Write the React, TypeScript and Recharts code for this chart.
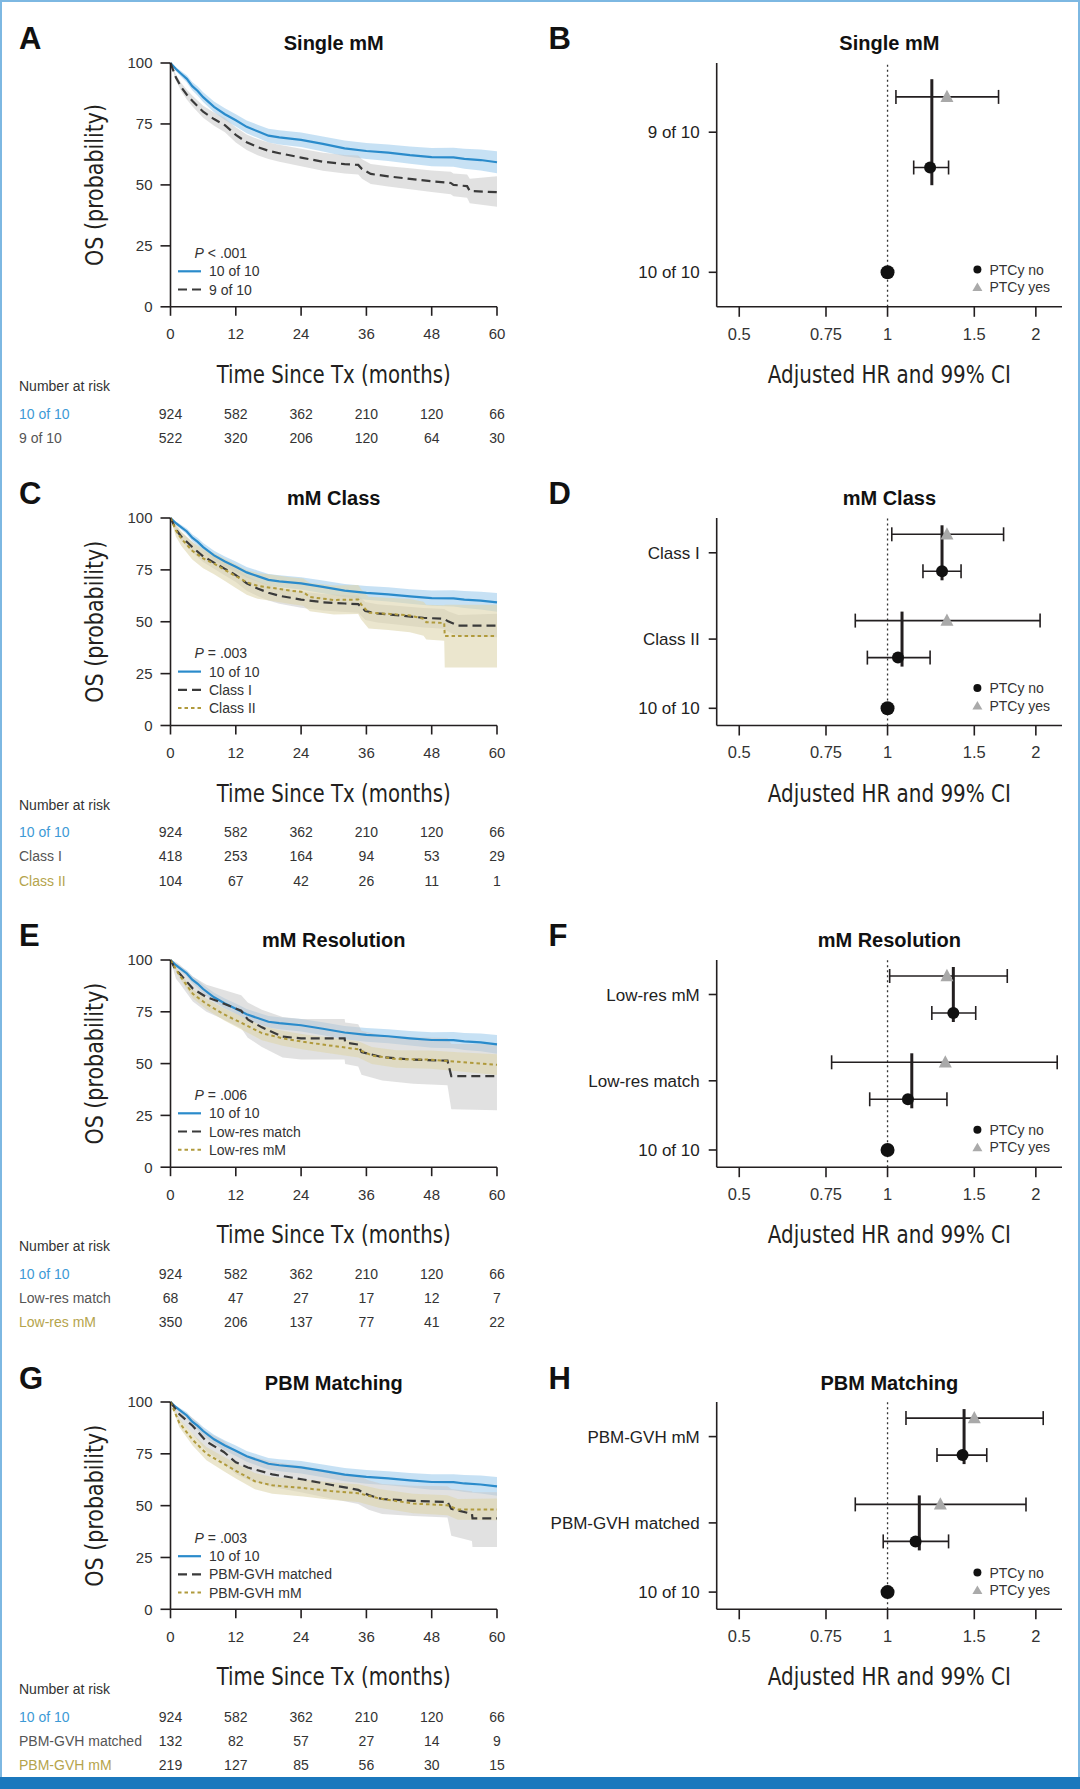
import React from "react";
import { ComposedChart, Line, Area, XAxis, YAxis, Scatter, ErrorBar, ReferenceLine, Label } from "recharts";

const FONT = '"Liberation Sans", Arial, Helvetica, sans-serif';
const NARROW = '"Liberation Sans Narrow", "Arial Narrow", "DejaVu Sans Condensed", sans-serif';
const INK = "#231f20";

const monthTicks = [0, 12, 24, 36, 48, 60];
const osTicks = [0, 25, 50, 75, 100];
const hrTicks = [0.5, 0.75, 1, 1.5, 2];

// KM curves: [month, OS %, lower CI, upper CI]
type Pt = [number, number, number, number];

const tenOfTen: Pt[] = [
  [0, 100, 100, 100], [1, 97.5, 96.6, 98.3], [2, 95.5, 94.3, 96.6], [3, 93.5, 92, 95],
  [4, 90.5, 88.8, 92.2], [5, 88.5, 86.6, 90.4], [6, 86, 84, 88], [8, 82, 79.8, 84.2],
  [10, 79, 76.6, 81.4], [12, 76.5, 74, 79], [14, 73.8, 71.2, 76.4], [16, 72, 69.3, 74.7],
  [18, 70.2, 67.4, 73], [20, 69.5, 66.6, 72.4], [24, 68.5, 65.5, 71.5], [28, 66.8, 63.7, 69.9],
  [32, 65, 61.8, 68.2], [36, 63.9, 60.6, 67.2], [40, 63.2, 59.8, 66.6], [44, 62.2, 58.7, 65.7],
  [48, 61.4, 57.7, 65.1], [52, 61.3, 57.4, 65.2], [54, 60.7, 56.6, 64.8], [57, 60.2, 55.9, 64.5],
  [60, 59.3, 54.8, 63.8],
];

const nineOfTen: Pt[] = [
  [0, 100, 100, 100], [1, 94, 92.8, 95.2], [2, 90, 88.3, 91.7], [3, 87, 85, 89],
  [4, 84.5, 82.3, 86.7], [6, 80, 77.5, 82.5], [8, 77, 74.3, 79.7], [10, 74.5, 71.6, 77.4],
  [12, 70.5, 67.4, 73.6], [14, 67.5, 64.3, 70.7], [16, 65.5, 62.2, 68.8], [18, 64, 60.6, 67.4],
  [20, 63, 59.5, 66.5], [24, 61.2, 57.6, 64.8], [28, 59.5, 55.8, 63.2], [32, 58.5, 54.7, 62.3],
  [34.5, 58.2, 54.3, 62.1], [35.2, 56.5, 52.5, 60.5], [36.8, 54.5, 50.4, 58.6], [40, 53.5, 49.3, 57.7],
  [44, 52.5, 48.2, 56.8], [48, 51.5, 47.1, 55.9], [51.5, 50.8, 46.2, 55.4], [52, 50, 45.3, 54.7],
  [54.5, 49.5, 44.7, 54.3], [55, 47.5, 42.5, 52.5], [60, 47, 41, 53.5],
];

const classI: Pt[] = [
  [0, 100, 100, 100], [1, 94.5, 93, 96], [2, 91, 89, 93], [4, 86, 83.5, 88.5],
  [6, 81.5, 78.8, 84.2], [8, 78.5, 75.5, 81.5], [10, 75.5, 72.3, 78.7], [12, 72.5, 69.2, 75.8],
  [14, 68.5, 65, 72], [16, 66, 62.4, 69.6], [18, 64, 60.3, 67.7], [20, 62.5, 58.7, 66.3],
  [24, 60.7, 56.8, 64.6], [28, 59.4, 55.4, 63.4], [32, 58.8, 54.7, 62.9], [34.5, 58.5, 54.3, 62.7],
  [35.8, 55.2, 50.9, 59.5], [38, 54, 49.6, 58.4], [41.5, 53.2, 48.7, 57.7], [46.5, 51.9, 47.2, 56.6],
  [50.3, 51.4, 46.6, 56.2], [51, 50.2, 45.3, 55.1], [52.9, 48.1, 43, 53.2], [60, 48.1, 42.5, 53.8],
];

const classII: Pt[] = [
  [0, 100, 100, 100], [1, 94, 91, 97], [2, 90, 86.5, 93.5], [4, 84.2, 80, 88.4],
  [6, 80.5, 75.8, 85.2], [8, 78, 72.9, 83.1], [10, 75, 69.6, 80.4], [12, 72, 66.3, 77.7],
  [14, 69, 63, 75], [16, 67.3, 61.1, 73.5], [18.7, 66.3, 60, 72.6], [22, 65, 58.5, 71.5],
  [24.4, 64.3, 57.7, 70.9], [25.6, 61.9, 55.1, 68.7], [30, 60.5, 53.5, 67.5], [34.5, 60.7, 53.7, 67.7],
  [35, 58.5, 51.2, 65.8], [36.4, 54.4, 46.8, 62], [40, 53.8, 46, 61.6], [44, 53, 45, 61],
  [46.5, 51.4, 43.2, 59.6], [47, 49.8, 41.4, 58.2], [50.3, 49.4, 40.8, 58], [50.4, 43.1, 28, 58.2],
  [60, 43.1, 28, 58.2],
];

const lowResMatch: Pt[] = [
  [0, 100, 100, 100], [1, 95, 91, 99], [1.6, 93.7, 89, 98], [4.1, 86.2, 80, 92],
  [6.6, 82.1, 75, 88], [9.2, 79.6, 72, 86], [13, 75.5, 67, 83], [14.2, 71.3, 62.5, 79.5],
  [16.8, 67.5, 58, 76], [20.6, 63, 53, 72.5], [24, 62.2, 52, 71.5], [32, 62.2, 52, 71.5],
  [32.1, 60.2, 49.8, 69.8], [34.5, 59.2, 48.6, 69], [35.1, 55.6, 44.6, 65.8], [38.9, 53.1, 41.8, 63.6],
  [44.6, 51.9, 40.3, 62.7], [50.9, 51.4, 39.6, 62.4], [51.6, 44, 28, 59.5], [60, 44, 27.5, 59.5],
];

const lowResMM: Pt[] = [
  [0, 100, 100, 100], [1.6, 92.9, 91.5, 94.3], [4.1, 83.7, 81.5, 85.9], [6.6, 78.8, 76.2, 81.4],
  [9.8, 73.8, 70.9, 76.7], [13, 69.7, 66.5, 72.9], [16.8, 64.7, 61.3, 68.1], [20.6, 62.2, 58.6, 65.8],
  [24.4, 60.5, 56.8, 64.2], [28.8, 58.9, 55.1, 62.7], [34.5, 56.9, 53, 60.8], [37, 53.9, 49.8, 58],
  [41.5, 52.2, 48, 56.4], [47.8, 51.9, 47.5, 56.3], [52.8, 50.9, 46.3, 55.5], [60, 49.4, 44.5, 54.5],
];

const pbmMatched: Pt[] = [
  [0, 100, 100, 100], [1.6, 94.2, 91.5, 96.9], [4.1, 88.4, 84.5, 92.3], [6.6, 80.9, 76.2, 85.6],
  [9.8, 75.9, 70.6, 81.2], [12, 70.9, 65.3, 76.5], [14.2, 68.4, 62.5, 74.3], [18.7, 65.1, 59, 71.2],
  [24.4, 62.6, 56.2, 69], [29.4, 60.1, 53.5, 66.7], [34.5, 57.6, 50.8, 64.4], [36.4, 55.1, 48, 62.2],
  [38.9, 53.2, 46, 60.4], [44.6, 52.3, 45, 59.6], [50.9, 51.8, 44.3, 59.3], [51.6, 48.5, 35.5, 58],
  [55.4, 46, 33, 57], [55.5, 43.9, 30, 56.5], [60, 43.9, 30, 56.5],
];

const pbmMM: Pt[] = [
  [0, 100, 100, 100], [1.6, 90, 88, 92], [4.1, 81.7, 78.9, 84.5], [6.6, 75.1, 71.9, 78.3],
  [9.8, 70.1, 66.6, 73.6], [12, 66.8, 63.1, 70.5], [15.5, 61.8, 57.9, 65.7], [18.7, 59.8, 55.8, 63.8],
  [24.4, 58.5, 54.4, 62.6], [29.4, 57.1, 52.9, 61.3], [34.5, 56, 51.7, 60.3], [38.3, 53.5, 49, 58],
  [44.6, 51, 46.3, 55.7], [50.9, 50.2, 45.4, 55], [52.8, 48.2, 43.2, 53.2], [60, 48.2, 43, 53.4],
];

// number at risk at 0, 12, 24, 36, 48, 60 months
const riskTenOfTen = [924, 582, 362, 210, 120, 66];
const riskNineOfTen = [522, 320, 206, 120, 64, 30];
const riskClassI = [418, 253, 164, 94, 53, 29];
const riskClassII = [104, 67, 42, 26, 11, 1];
const riskLowResMatch = [68, 47, 27, 17, 12, 7];
const riskLowResMM = [350, 206, 137, 77, 41, 22];
const riskPbmMatched = [132, 82, 57, 27, 14, 9];
const riskPbmMM = [219, 127, 85, 56, 30, 15];

// adjusted HR [estimate, lower 99% CI, upper 99% CI]; rows listed bottom-up after the 10 of 10 reference
const singleLabels = ["10 of 10", "9 of 10"];
const singleNo = [[1.22, 1.13, 1.33]];
const singleYes = [[1.32, 1.04, 1.68]];
const singleAll = [1.23];

const classLabels = ["10 of 10", "Class II", "Class I"];
const classNo = [[1.05, 0.91, 1.22], [1.29, 1.18, 1.41]];
const classYes = [[1.32, 0.86, 2.04], [1.32, 1.02, 1.72]];
const classAll = [1.07, 1.29];

const resLabels = ["10 of 10", "Low-res match", "Low-res mM"];
const resNo = [[1.1, 0.92, 1.32], [1.36, 1.23, 1.51]];
const resYes = [[1.31, 0.77, 2.21], [1.32, 1.01, 1.75]];
const resAll = [1.12, 1.36];

const pbmLabels = ["10 of 10", "PBM-GVH matched", "PBM-GVH mM"];
const pbmNo = [[1.14, 0.98, 1.33], [1.42, 1.26, 1.59]];
const pbmYes = [[1.28, 0.86, 1.91], [1.5, 1.09, 2.07]];
const pbmAll = [1.16, 1.43];

type Kind = "ref" | "dash" | "dot";
const STYLE: Record<Kind, any> = {
  ref: { stroke: "#2a8bcb", dash: undefined, width: 2.2, band: "#b9daf1", op: 0.8, label: "#3d9ad6" },
  dash: { stroke: "#3a3a3a", dash: "9 5", width: 2.2, band: "#c8c8c8", op: 0.55, label: "#555555" },
  dot: { stroke: "#b09a3c", dash: "3.5 3", width: 2, band: "#ddd5ae", op: 0.6, label: "#b5a44c" },
};

const toRows = (pts: Pt[]) => pts.map(([t, s, lo, hi]) => ({ t, s, band: [lo, hi] }));

const KM_LEFT = 170.5;
const KM_W = 326.5;
const kmX = (m: number) => KM_LEFT + (m / 60) * KM_W;

const panels = [
  {
    l: "A", r: "B", title: "Single mM", top: 62.7, plotH: 243.8, p: "< .001",
    curves: [
      { name: "10 of 10", pts: tenOfTen, risk: riskTenOfTen, kind: "ref" as Kind },
      { name: "9 of 10", pts: nineOfTen, risk: riskNineOfTen, kind: "dash" as Kind },
    ],
    forest: { labels: singleLabels, no: singleNo, yes: singleYes, all: singleAll, rowsY: [34.5, 174.6], spread: 35.3, half: 53 },
  },
  {
    l: "C", r: "D", title: "mM Class", top: 517.5, plotH: 207.5, p: "= .003",
    curves: [
      { name: "10 of 10", pts: tenOfTen, risk: riskTenOfTen, kind: "ref" as Kind },
      { name: "Class I", pts: classI, risk: riskClassI, kind: "dash" as Kind },
      { name: "Class II", pts: classII, risk: riskClassII, kind: "dot" as Kind },
    ],
    forest: { labels: classLabels, no: classNo, yes: classYes, all: classAll, rowsY: [17.2, 86.4, 172.7], spread: 18.5, half: 27.5 },
  },
  {
    l: "E", r: "F", title: "mM Resolution", top: 959.5, plotH: 207.2, p: "= .006",
    curves: [
      { name: "10 of 10", pts: tenOfTen, risk: riskTenOfTen, kind: "ref" as Kind },
      { name: "Low-res match", pts: lowResMatch, risk: riskLowResMatch, kind: "dash" as Kind },
      { name: "Low-res mM", pts: lowResMM, risk: riskLowResMM, kind: "dot" as Kind },
    ],
    forest: { labels: resLabels, no: resNo, yes: resYes, all: resAll, rowsY: [17.2, 86.4, 172.7], spread: 18.5, half: 27.5 },
  },
  {
    l: "G", r: "H", title: "PBM Matching", top: 1402.3, plotH: 207.3, p: "= .003",
    curves: [
      { name: "10 of 10", pts: tenOfTen, risk: riskTenOfTen, kind: "ref" as Kind },
      { name: "PBM-GVH matched", pts: pbmMatched, risk: riskPbmMatched, kind: "dash" as Kind },
      { name: "PBM-GVH mM", pts: pbmMM, risk: riskPbmMM, kind: "dot" as Kind },
    ],
    forest: { labels: pbmLabels, no: pbmNo, yes: pbmYes, all: pbmAll, rowsY: [17.2, 86.4, 172.7], spread: 18.5, half: 27.5 },
  },
];

const M_TOP = 20;
const AXIS_H = 95;
const TITLE_SIZE = 25;

// condensed axis titles, squeezed to the printed width
const xTitle = (value: string, length: number) => (props: any) => {
  const { x, y, width } = props.viewBox;
  return (
    <text x={x + width / 2} y={y + 67 + 0.36 * TITLE_SIZE} textAnchor="middle" fontSize={TITLE_SIZE}
      fontFamily={NARROW} fill={INK} textLength={length} lengthAdjust="spacingAndGlyphs">
      {value}
    </text>
  );
};
const yTitle = (value: string, length: number, cx: number) => (props: any) => {
  const { y, height } = props.viewBox;
  return (
    <text transform={`translate(${cx}, ${y + height / 2}) rotate(-90)`} x={0} y={0.36 * TITLE_SIZE} textAnchor="middle"
      fontSize={TITLE_SIZE} fontFamily={NARROW} fill={INK} textLength={length} lengthAdjust="spacingAndGlyphs">
      {value}
    </text>
  );
};

function KmChart({ top, plotH, curves }: any) {
  return (
    <div style={{ position: "absolute", left: 0, top: top - M_TOP }}>
      <ComposedChart width={540} height={M_TOP + plotH + AXIS_H} margin={{ top: M_TOP, right: 540 - KM_LEFT - KM_W, bottom: 0, left: 0 }}>
        <XAxis
          type="number" dataKey="t" domain={[0, 60]} ticks={monthTicks} interval={0} height={AXIS_H}
          stroke={INK} strokeWidth={1.6} tickSize={9} tickMargin={13}
          tick={{ fill: "#333", fontSize: 15, fontFamily: FONT }}
        >
          <Label content={xTitle("Time Since Tx (months)", 234)} />
        </XAxis>
        <YAxis
          type="number" domain={[0, 100]} ticks={osTicks} interval={0} width={KM_LEFT}
          stroke={INK} strokeWidth={1.6} tickSize={10} tickMargin={8}
          tick={{ fill: "#333", fontSize: 15, fontFamily: FONT }}
        >
          <Label content={yTitle("OS (probability)", 162, 94)} />
        </YAxis>
        {curves.map((c: any) => (
          <Area key={"band-" + c.name} data={toRows(c.pts)} dataKey="band" type="linear" stroke="none"
            fill={STYLE[c.kind as Kind].band} fillOpacity={STYLE[c.kind as Kind].op} isAnimationActive={false} />
        ))}
        {curves.map((c: any) => (
          <Line key={"line-" + c.name} data={toRows(c.pts)} dataKey="s" type="linear" dot={false}
            stroke={STYLE[c.kind as Kind].stroke} strokeWidth={STYLE[c.kind as Kind].width}
            strokeDasharray={STYLE[c.kind as Kind].dash} isAnimationActive={false} />
        ))}
      </ComposedChart>
    </div>
  );
}

const Dot = (r: number, fill: string) => (props: any) => <circle cx={props.cx} cy={props.cy} r={r} fill={fill} />;
const Tri = (s: number, fill: string) => (props: any) => (
  <polygon points={`${props.cx},${props.cy - s * 0.55} ${props.cx - s / 2},${props.cy + s * 0.4} ${props.cx + s / 2},${props.cy + s * 0.4}`} fill={fill} />
);

const FOREST_LEFT = 176.7;
const FOREST_RIGHT = 1062 - 540;

function ForestChart({ top, plotH, forest }: any) {
  const { labels, no, yes, all, rowsY, spread, half } = forest;
  const refPt = [{ hr: 1, y: rowsY[0] }];
  const noPts = no.map(([hr, lo, hi]: number[], i: number) => ({ hr, y: rowsY[i + 1] - spread, err: [hr - lo, hi - hr] }));
  const yesPts = yes.map(([hr, lo, hi]: number[], i: number) => ({ hr, y: rowsY[i + 1] + spread, err: [hr - lo, hi - hr] }));
  return (
    <div style={{ position: "absolute", left: 540, top: top - M_TOP }}>
      <ComposedChart width={540} height={M_TOP + plotH + AXIS_H} margin={{ top: M_TOP, right: 540 - FOREST_RIGHT, bottom: 0, left: 0 }}>
        <XAxis
          type="number" dataKey="hr" scale="log" domain={[0.45, 2.26]} allowDataOverflow ticks={hrTicks} interval={0}
          height={AXIS_H} stroke={INK} strokeWidth={1.6} tickSize={10} tickMargin={11}
          tick={{ fill: "#333", fontSize: 16.5, fontFamily: FONT }}
        >
          <Label content={xTitle("Adjusted HR and 99% CI", 243)} />
        </XAxis>
        <YAxis
          type="number" dataKey="y" domain={[0, plotH]} allowDataOverflow ticks={rowsY} interval={0} width={FOREST_LEFT}
          tickFormatter={(v: number) => labels[rowsY.indexOf(v)] ?? ""}
          stroke={INK} strokeWidth={1.6} tickSize={8} tickMargin={9}
          tick={{ fill: "#222", fontSize: 17, fontFamily: FONT }}
        />
        <ReferenceLine x={1} stroke="#333" strokeWidth={1.3} strokeDasharray="2 3" />
        <Scatter data={yesPts} dataKey="y" shape={Tri(13, "#a9a9a9")} isAnimationActive={false}>
          <ErrorBar dataKey="err" direction="x" width={7} stroke={INK} strokeWidth={1.6} />
        </Scatter>
        <Scatter data={noPts} dataKey="y" shape={Dot(6, "#111")} isAnimationActive={false}>
          <ErrorBar dataKey="err" direction="x" width={7} stroke={INK} strokeWidth={1.6} />
        </Scatter>
        <Scatter data={refPt} dataKey="y" shape={Dot(7, "#111")} isAnimationActive={false} />
        {all.map((hr: number, i: number) => (
          <ReferenceLine key={"all-" + i} segment={[{ x: hr, y: rowsY[i + 1] + half }, { x: hr, y: rowsY[i + 1] - half }]}
            stroke={INK} strokeWidth={3} />
        ))}
      </ComposedChart>
    </div>
  );
}

// text helper: y is the visual middle of capitals
function T({ x, y, size = 14, anchor = "start", weight = 400, fill = "#333", family = FONT, children }: any) {
  return (
    <text x={x} y={y + 0.36 * size} fontSize={size} fontWeight={weight} fill={fill} fontFamily={family} textAnchor={anchor}>
      {children}
    </text>
  );
}

function Overlay() {
  return (
    <svg width={1080} height={1789} style={{ position: "absolute", left: 0, top: 0, pointerEvents: "none" }}>
      {panels.map((p) => {
        const bottom = p.top + p.plotH;
        const n = p.curves.length;
        const legY = (i: number) => bottom - 17 - (n - 1 - i) * 18.2;
        return (
          <g key={p.l}>
            <T x={19} y={p.top - 24.5} size={31} weight={700} fill="#111">{p.l}</T>
            <T x={548.5} y={p.top - 24.5} size={31} weight={700} fill="#111">{p.r}</T>
            <T x={KM_LEFT + KM_W / 2} y={p.top - 20} size={20} weight={700} fill="#111" anchor="middle">{p.title}</T>
            <T x={540 + FOREST_LEFT + (FOREST_RIGHT - FOREST_LEFT) / 2} y={p.top - 20} size={20} weight={700} fill="#111" anchor="middle">{p.title}</T>

            {/* KM legend */}
            <text x={194.6} y={legY(0) - 18.5 + 5} fontSize={14} fill="#333" fontFamily={FONT}>
              <tspan fontStyle="italic">P</tspan> {p.p}
            </text>
            {p.curves.map((c, i) => (
              <g key={c.name}>
                <line x1={178} x2={201} y1={legY(i)} y2={legY(i)} stroke={STYLE[c.kind].stroke}
                  strokeWidth={STYLE[c.kind].width} strokeDasharray={STYLE[c.kind].dash} />
                <T x={209} y={legY(i)} size={14}>{c.name}</T>
              </g>
            ))}

            {/* number at risk */}
            <T x={19} y={bottom + 79.7} size={14}>Number at risk</T>
            {p.curves.map((c, i) => (
              <g key={"risk-" + c.name}>
                <T x={19} y={bottom + 107 + i * 24.3} size={14} fill={STYLE[c.kind].label}>{c.name}</T>
                {c.risk.map((v, k) => (
                  <T key={k} x={kmX(monthTicks[k])} y={bottom + 107 + i * 24.3} size={14} anchor="middle">{v}</T>
                ))}
              </g>
            ))}

            {/* forest legend */}
            <circle cx={977.4} cy={bottom - 37} r={4} fill="#111" />
            <T x={989.4} y={bottom - 37} size={14}>PTCy no</T>
            <polygon points={`${977.4},${bottom - 24} ${972.4},${bottom - 15.5} ${982.4},${bottom - 15.5}`} fill="#aaa" />
            <T x={989.4} y={bottom - 19.5} size={14}>PTCy yes</T>
          </g>
        );
      })}
    </svg>
  );
}

export default function App() {
  return (
    <div style={{ position: "absolute", left: 0, top: 0, width: 1080, height: 1789, background: "#fff", overflow: "hidden", fontFamily: FONT }}>
      {panels.map((p) => (
        <React.Fragment key={p.l}>
          <KmChart top={p.top} plotH={p.plotH} curves={p.curves} />
          <ForestChart top={p.top} plotH={p.plotH} forest={p.forest} />
        </React.Fragment>
      ))}
      <Overlay />
      <div style={{ position: "absolute", left: 0, top: 0, width: 1076, height: 1776, border: "2px solid #7db8e2", borderBottom: "none" }} />
      <div style={{ position: "absolute", left: 0, top: 1777, width: 1080, height: 12, background: "#1b78bd" }} />
    </div>
  );
}
